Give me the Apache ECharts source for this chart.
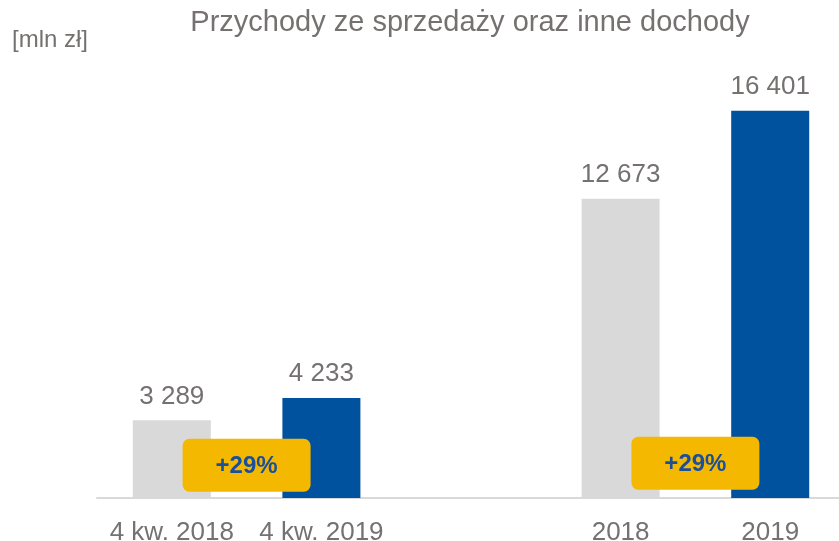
<!DOCTYPE html>
<html>
<head>
<meta charset="utf-8">
<script src="https://cdn.jsdelivr.net/npm/echarts@6/dist/echarts.min.js"></script>
<style>
  html, body { margin: 0; padding: 0; background: #fff; }
  #chart { width: 839px; height: 541px; }
</style>
</head>
<body>
<div id="chart"></div>
<script>
// dane
var categories = ['4 kw. 2018', '4 kw. 2019', '', '2018', '2019'];
var values = [3289, 4233, null, 12673, 16401];
var barColors = ['#d9d9d9', '#00519e', null, '#d9d9d9', '#00519e'];
// ramki z dynamiką: [od kategorii, do kategorii, wysokość środka, tekst]
var changeBoxes = [[0, 1, 1390, '+29%'], [3, 4, 1470, '+29%']];

var font = 'Liberation Sans, Arial, sans-serif';
var grey = '#767171';

var chart = echarts.init(document.getElementById('chart'));

var option = {
  animation: false,
  graphic: [{
    type: 'text', x: 470, y: 8,
    style: {
      text: 'Przychody ze sprzedaży oraz inne dochody', align: 'center',
      fontFamily: font, fontSize: 29, fill: grey
    }
  }, {
    type: 'text', left: 12, top: 28,
    style: { text: '[mln zł]', fontFamily: font, fontSize: 24, fill: grey }
  }],
  grid: { left: 97, top: 73, width: 748, height: 425, outerBoundsMode: 'none' },
  xAxis: {
    type: 'category',
    data: categories,
    axisLine: { lineStyle: { color: '#d9d9d9', width: 2 } },
    axisTick: { show: false },
    axisLabel: { fontFamily: font, fontSize: 26, color: grey, margin: 22, interval: 0 }
  },
  yAxis: {
    type: 'value', min: 0, max: 18000,
    show: false, splitLine: { show: false }
  },
  series: [{
    type: 'bar',
    barWidth: 78,
    data: values.map(function (v, i) {
      return { value: v, itemStyle: { color: barColors[i] } };
    }),
    label: {
      show: true, position: 'top', distance: 11,
      fontFamily: font, fontSize: 26, color: grey,
      formatter: function (p) {
        return String(p.value).replace(/\B(?=(\d{3})+(?!\d))/g, ' ');
      }
    }
  }, {
    type: 'custom',
    data: changeBoxes,
    z: 5,
    renderItem: function (params, api) {
      var a = api.coord([api.value(0), api.value(2)]);
      var b = api.coord([api.value(1), api.value(2)]);
      var cx = (a[0] + b[0]) / 2, cy = a[1];
      var w = 128, h = 53;
      return {
        type: 'group',
        children: [{
          type: 'rect',
          shape: { x: cx - w / 2, y: cy - h / 2, width: w, height: h, r: 7 },
          style: { fill: '#f5b800' }
        }, {
          type: 'text',
          style: {
            x: cx, y: cy + 1, text: changeBoxes[params.dataIndex][3],
            align: 'center', verticalAlign: 'middle',
            fontFamily: font, fontSize: 24, fontWeight: 'bold', fill: '#1a4f9c'
          }
        }]
      };
    }
  }]
};

chart.setOption(option);
</script>
</body>
</html>
